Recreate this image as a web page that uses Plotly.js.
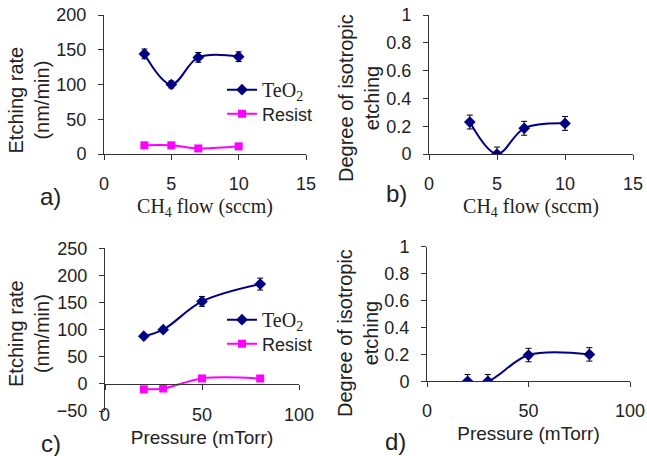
<!DOCTYPE html>
<html>
<head>
<meta charset="utf-8">
<script src="https://cdn.plot.ly/plotly-3.0.1.min.js"></script>
<style>html,body{margin:0;padding:0;background:#fff;}#chart{width:647px;height:456px;}</style>
</head>
<body>
<div id="chart"></div>
<script>
// ---------- data ----------
const flowX = [3, 5, 7, 10];
const flowTeO2 = [144, 100, 139, 140];
const flowTeO2Err = [7, 5, 7, 7];
const flowResist = [12.5, 12.5, 8, 11];
const flowIso = [0.23, 0, 0.185, 0.22];
const flowIsoErr = [0.05, 0.05, 0.05, 0.05];

const presX = [20, 30, 50, 80];
const presTeO2 = [88, 100, 152, 184];
const presTeO2Err = [3, 3, 9, 11];
const presResist = [-10, -8.5, 10, 10];
const presIso = [0, 0, 0.195, 0.2];
const presIsoErr = [0.05, 0.05, 0.05, 0.05];

const seriesNames = ['<span style="font-family:Liberation Serif;font-size:20px">TeO<sub>2</sub></span>', 'Resist'];
const flowTicks = [0, 5, 10, 15];
const presTicks = [0, 50, 100];
const rateTicksA = [0, 50, 100, 150, 200];
const rateTicksC = [-50, 0, 50, 100, 150, 200, 250];
const isoTicks = [0, 0.2, 0.4, 0.6, 0.8, 1];
const isoTickText = ['0', '0.2', '0.4', '0.6', '0.8', '1'];

// ---------- layout helpers ----------
const W = 647, H = 456;
const px = v => v / W;
const py = v => 1 - v / H;

const NAVY = '#000080', MAG = '#ff00ff', TXT = '#222222', AX = '#333333';
const SANS = 'Liberation Sans, Arial, sans-serif';
const SERIF = 'Liberation Serif, Times New Roman, serif';

function teo2(x, y, err, xa, ya, leg, show) {
  return {
    x: x, y: y, xaxis: xa, yaxis: ya, type: 'scatter', mode: 'lines+markers',
    name: seriesNames[0], legend: leg, showlegend: show,
    line: {color: NAVY, width: 2, shape: 'spline', smoothing: 1},
    marker: {symbol: 'diamond', size: 9, color: NAVY},
    error_y: {type: 'data', array: err, visible: true, color: '#000', thickness: 1, width: 3}
  };
}
function resist(x, y, xa, ya, leg) {
  return {
    x: x, y: y, xaxis: xa, yaxis: ya, type: 'scatter', mode: 'lines+markers',
    name: seriesNames[1], legend: leg, showlegend: true,
    line: {color: MAG, width: 2, shape: 'spline', smoothing: 1},
    marker: {symbol: 'square', size: 8, color: MAG}
  };
}

const data = [
  teo2(flowX, flowTeO2, flowTeO2Err, 'x', 'y', 'legend', true),
  resist(flowX, flowResist, 'x', 'y', 'legend3'),
  teo2(flowX, flowIso, flowIsoErr, 'x2', 'y2', 'legend', false),
  teo2(presX, presTeO2, presTeO2Err, 'x3', 'y3', 'legend2', true),
  resist(presX, presResist, 'x3', 'y3', 'legend4'),
  teo2(presX, presIso, presIsoErr, 'x4', 'y4', 'legend', false),
  // invisible carrier so that the label axis of panel c is drawn
  {x: presX, y: presTeO2, xaxis: 'x5', yaxis: 'y3', type: 'scatter', mode: 'markers',
   marker: {opacity: 0, size: 1}, showlegend: false, hoverinfo: 'skip'}
];

const tickFont = {family: SANS, size: 18, color: TXT};
function xAx(dom, range, ticks, anchor, titleText, titleFont) {
  return {
    domain: dom, range: range, anchor: anchor, tickvals: ticks,
    showline: true, linecolor: AX, linewidth: 1, ticks: 'outside', ticklen: 5, tickcolor: AX,
    showgrid: false, zeroline: false, tickfont: tickFont, ticklabelstandoff: 8,
    title: {text: titleText, font: titleFont, standoff: 6}
  };
}
function yAx(dom, range, ticks, anchor, ticktext) {
  const a = {
    domain: dom, range: range, anchor: anchor, tickvals: ticks,
    showline: true, linecolor: AX, linewidth: 1, ticks: 'outside', ticklen: 5, tickcolor: AX,
    showgrid: false, zeroline: false, tickfont: tickFont, ticklabelstandoff: 8
  };
  if (ticktext) a.ticktext = ticktext;
  return a;
}

const domAx = [px(104), px(306)], domAy = [py(154), py(15)];
const domBx = [px(429), px(633)], domBy = domAy;
const domCx = [px(105), px(299)], domCy = [py(411), py(248.3)];
const domDx = [px(427), px(630)], domDy = [py(381.3), py(246.7)];

const flowTitle = {text: '<span style="font-family:Liberation Serif">CH<sub>4</sub> flow (sccm)</span>', font: {family: SERIF, size: 20, color: TXT}};
const presTitle = {text: 'Pressure (mTorr)', font: {family: SANS, size: 19, color: TXT}};

const xaxis3 = {
  domain: domCx, range: [0, 100], anchor: 'free', position: py(383.7), tickvals: presTicks,
  showline: true, linecolor: AX, linewidth: 1, ticks: 'outside', ticklen: 5, tickcolor: AX,
  showgrid: false, zeroline: false, showticklabels: false
};
const xaxis5 = {
  domain: domCx, range: [0, 100], overlaying: 'x3', anchor: 'free', position: py(402),
  tickvals: presTicks, showline: false, ticks: '', showgrid: false, zeroline: false,
  tickfont: tickFont, title: {text: presTitle.text, font: presTitle.font, standoff: 6}
};

function yTitle(text, x, y) {
  return {text: text, xref: 'paper', yref: 'paper', x: px(x), y: py(y), xanchor: 'center', yanchor: 'middle',
          textangle: -90, showarrow: false, font: {family: SANS, size: 20, color: TXT}};
}
function panelLabel(text, x, y) {
  return {text: text, xref: 'paper', yref: 'paper', x: px(x), y: py(y), xanchor: 'center', yanchor: 'middle',
          showarrow: false, font: {family: SANS, size: 24, color: TXT}};
}

const legFont = {family: SANS, size: 18, color: TXT};
function leg(x, y) {
  return {x: px(x), y: py(y), xanchor: 'left', yanchor: 'middle', bgcolor: 'rgba(0,0,0,0)',
          font: legFont, tracegroupgap: 0};
}
const layout = {
  width: W, height: H, margin: {l: 0, r: 0, t: 0, b: 0},
  paper_bgcolor: '#fff', plot_bgcolor: 'rgba(0,0,0,0)',
  xaxis: xAx(domAx, [0, 15], flowTicks, 'y', flowTitle.text, flowTitle.font),
  yaxis: yAx(domAy, [0, 200], rateTicksA, 'x'),
  xaxis2: xAx(domBx, [0, 15], flowTicks, 'y2', flowTitle.text, flowTitle.font),
  yaxis2: yAx(domBy, [0, 1], isoTicks, 'x2', isoTickText),
  xaxis3: xaxis3,
  yaxis3: yAx(domCy, [-50, 250], rateTicksC, 'x3'),
  xaxis4: xAx(domDx, [0, 100], presTicks, 'y4', presTitle.text, presTitle.font),
  yaxis4: yAx(domDy, [0, 1], isoTicks, 'x4', isoTickText),
  xaxis5: xaxis5,
  legend: leg(222, 90),
  legend3: leg(222, 114),
  legend2: leg(222, 320),
  legend4: leg(222, 344),
  annotations: [
    yTitle('Etching rate<br>(nm/min)', 28.5, 100),
    yTitle('Degree of isotropic<br>etching', 359, 98),
    yTitle('Etching rate<br>(nm/min)', 29, 334),
    yTitle('Degree of isotropic<br>etching', 358, 333),
    panelLabel('a)', 51, 196),
    panelLabel('b)', 396, 193),
    panelLabel('c)', 51, 443),
    panelLabel('d)', 395, 441)
  ],
  showlegend: true
};

Plotly.newPlot('chart', data, layout, {displayModeBar: false, staticPlot: true});
</script>
</body>
</html>
